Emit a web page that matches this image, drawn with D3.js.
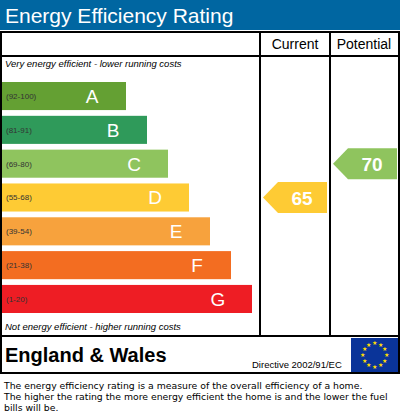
<!DOCTYPE html>
<html><head><meta charset="utf-8">
<script src="https://cdn.jsdelivr.net/npm/d3@7"></script>
<style>body{margin:0;background:#fff}svg{display:block;font-family:Arial,"Liberation Sans",sans-serif}</style>
</head><body><svg id="c" width="400" height="419"></svg>
<script>
const bands = ["A", "B", "C", "D", "E", "F", "G"];
const ranges = ["(92-100)", "(81-91)", "(69-80)", "(55-68)", "(39-54)", "(21-38)", "(1-20)"];
const colors = ["#64a033", "#2f9a5a", "#8fc45e", "#fecb34", "#f7a23d", "#f36d21", "#ee1d24"];
const minScore = [92, 81, 69, 55, 39, 21, 1];
const current = 65;
const potential = 70;

const svg = d3.select("#c");
svg.append("rect").attr("x", 0).attr("y", 0).attr("width", 400).attr("height", 30).attr("fill", "#0066a1");
svg.append("text").attr("x", 5).attr("y", 23).attr("fill", "#fff").attr("font-size", 21).text("Energy Efficiency Rating");

const frame = svg.append("g").attr("fill", "none").attr("stroke", "#000").attr("stroke-width", 2);
frame.append("rect").attr("x", 1).attr("y", 32).attr("width", 398).attr("height", 341);
frame.append("line").attr("x1", 1).attr("x2", 399).attr("y1", 56).attr("y2", 56);
frame.append("line").attr("x1", 1).attr("x2", 399).attr("y1", 336).attr("y2", 336);
frame.append("line").attr("x1", 260).attr("x2", 260).attr("y1", 32).attr("y2", 336);
frame.append("line").attr("x1", 330).attr("x2", 330).attr("y1", 32).attr("y2", 336);

svg.append("text").attr("x", 295).attr("y", 49).attr("text-anchor", "middle").attr("font-size", 14).text("Current");
svg.append("text").attr("x", 364).attr("y", 49).attr("text-anchor", "middle").attr("font-size", 14).text("Potential");
svg.append("text").attr("x", 5).attr("y", 67).attr("font-size", 9.5).attr("font-style", "italic").text("Very energy efficient - lower running costs");
svg.append("text").attr("x", 5).attr("y", 330).attr("font-size", 9.5).attr("font-style", "italic").text("Not energy efficient - higher running costs");

const y = d3.scaleBand().domain(bands).range([82, 313]).paddingInner(0.17);
const w = d3.scaleLinear().domain([0, 6]).range([124, 250]);

const g = svg.selectAll("g.band").data(bands).enter().append("g").attr("class", "band")
  .attr("transform", d => `translate(2,${y(d)})`);
g.append("rect").attr("width", (d, i) => w(i)).attr("height", y.bandwidth()).attr("fill", (d, i) => colors[i]);
g.append("text").attr("x", 4).attr("y", y.bandwidth() / 2 + 3).attr("font-size", 8).attr("fill", "#333")
  .text((d, i) => ranges[i]);
g.append("text").attr("x", (d, i) => w(i) - 34).attr("y", y.bandwidth() / 2 + 7).attr("font-size", 19)
  .attr("text-anchor", "middle").attr("fill", "#fff").text(d => d);

function bandOf(s) { return minScore.findIndex(m => s >= m); }
function arrow(score, x0, x1) {
  const i = bandOf(score), b = bands[i];
  const yc = y(b) + y.bandwidth() / 2, h = 31;
  const pts = [[x0, yc], [x0 + 15, yc - h / 2], [x1, yc - h / 2], [x1, yc + h / 2], [x0 + 15, yc + h / 2]];
  svg.append("polygon").attr("points", pts.map(p => p.join(",")).join(" ")).attr("fill", colors[i]);
  svg.append("text").attr("x", (x0 + x1) / 2 + 7).attr("y", yc + 7).attr("text-anchor", "middle")
    .attr("font-size", 19).attr("font-weight", "bold").attr("fill", "#fff").text(score);
}
arrow(current, 263, 327);
arrow(potential, 333, 397);

svg.append("text").attr("x", 5).attr("y", 362).attr("font-size", 20).attr("font-weight", "bold").text("England & Wales");
svg.append("text").attr("x", 252).attr("y", 368).attr("font-size", 9.5).text("Directive 2002/91/EC");
svg.append("rect").attr("x", 351).attr("y", 338).attr("width", 47).attr("height", 34).attr("fill", "#0a3499");
d3.range(12).forEach(k => {
  const a = k * Math.PI / 6;
  svg.append("text").attr("x", 374.5 + 12 * Math.cos(a)).attr("y", 355 + 12 * Math.sin(a) + 2)
    .attr("text-anchor", "middle").attr("font-size", 6).attr("fill", "#ffde00").text("★");
});

const foot = ["The energy efficiency rating is a measure of the overall efficiency of a home.",
  "The higher the rating the more energy efficient the home is and the lower the fuel",
  "bills will be."];
svg.selectAll("text.f").data(foot).enter().append("text").attr("class", "f")
  .attr("x", 4).attr("y", (d, i) => 389 + i * 11).attr("font-size", 9.3).attr("font-family", "Verdana, DejaVu Sans, sans-serif").text(d => d);
</script></body></html>
